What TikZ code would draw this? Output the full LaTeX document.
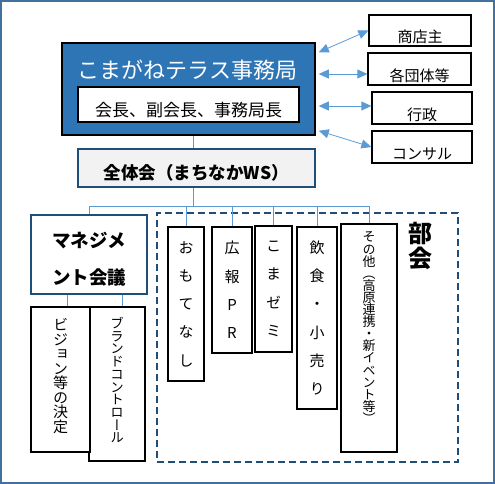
\documentclass[tikz,border=0pt]{standalone}
\usepackage{fontspec}
\setmainfont{Noto Sans CJK JP}
\newfontfamily\tatefont[RawFeature=+vert]{Noto Sans CJK JP}
\definecolor{kyokublue}{RGB}{46,117,182}
\definecolor{linkblue}{RGB}{91,155,213}
\definecolor{navyline}{RGB}{31,78,121}
\definecolor{frameblue}{RGB}{65,113,156}
\usetikzlibrary{arrows.meta, positioning, calc}

\begin{document}
\begin{tikzpicture}[x=1pt, y=-1pt,
  sidebox/.style={draw, line width=1.3pt, inner ysep=0pt, text height=24.5pt, text depth=0pt, font=\fontsize{15}{15}\selectfont},
  tatebox/.style={draw, line width=1.5pt, fill=white, inner sep=0pt, align=center, font=\tatefont\fontsize{15}{28.3}\selectfont},
  navybox/.style={draw=navyline, line width=2.5pt},
  link/.style={draw=linkblue, line width=0.8pt},
  both/.style={link, {Triangle[length=10pt,width=9pt]}-{Triangle[length=10pt,width=9pt]}}
]
  \useasboundingbox (0,0) rectangle (495,484);
  \draw[frameblue, line width=2pt] (1,1) rectangle (494,483);

  % jimukyoku
  \node[draw, line width=1.5pt, fill=kyokublue, minimum width=253, minimum height=92] (koma) at (188.5,89) {};
  \node[text=white, font=\fontsize{22}{22}\selectfont] (komatitle) at (187.5,70) {こまがねテラス事務局};
  \node[draw, line width=1.5pt, fill=white, minimum width=221, minimum height=35, inner ysep=0pt,
    text height=24pt, text depth=0pt, font=\fontsize{17}{17}\selectfont] (yakuin) at (188.5,104.5) {会長、副会長、事務局長};

  % partners
  \node[sidebox, minimum width=102, minimum height=31] (shoten) at (420,30.5) {商店主};
  \node[sidebox, minimum width=103, minimum height=32] (kakudantai) at (419.5,69) {各団体等};
  \node[sidebox, minimum width=100, minimum height=32] (gyosei) at (422,108) {行政};
  \node[sidebox, minimum width=100, minimum height=32] (konsaru) at (422,147) {コンサル};

  \coordinate (a1) at ([xshift=3pt,yshift=-10pt]koma.north east);
  \coordinate (a2) at ([xshift=3pt,yshift=15pt]koma.east);
  \coordinate (a3) at ([xshift=3pt,yshift=-17pt]koma.east);
  \coordinate (a4) at ([xshift=3pt,yshift=5pt]koma.south east);
  \draw[both] (a1) -- (shoten.west);
  \draw[both] (a2) -- (a2 -| kakudantai.west);
  \draw[both] (a3) -- (a3 -| gyosei.west);
  \draw[both] (a4) -- (konsaru.west);

  % zentaikai
  \node[navybox, fill=black!5, minimum width=237, minimum height=38, inner ysep=0pt,
    text height=23.3pt, text depth=0pt, font=\bfseries\fontsize{17.5}{17.5}\selectfont] (zentai) at (196.5,168) {全体会（まちなかWS）};

  % management
  \node[navybox, fill=white, minimum width=116, minimum height=79, align=center, text height=61pt,
    font=\bfseries\fontsize{18.5}{37}\selectfont] (mgmt) at (89,254.5) {マネジメ\\ント会議};
  \node[tatebox, minimum width=56, minimum height=154, text depth=8pt, font=\tatefont\fontsize{13.5}{12.7}\selectfont] (brand) at (117,384)
    {ブ\\ラ\\ン\\ド\\コ\\ン\\ト\\ロ\\ー\\ル};
  \node[tatebox, minimum width=59, minimum height=145, text depth=8pt, font=\tatefont\fontsize{15}{14.5}\selectfont] (vision) at (60.5,379.5)
    {ビ\\ジ\\ョ\\ン\\等\\の\\決\\定};

  % bukai
  \node[draw=navyline, line width=2.5pt, dash pattern=on 7pt off 4pt, minimum width=301, minimum height=249] (bukai) at (307.5,337.5) {};
  \node[font=\bfseries\fontsize{24}{25}\selectfont, align=center] (bukailabel) at (420,245.5) {部\\会};
  \node[tatebox, minimum width=36, minimum height=154] (omotenashi) at (186,304) {お\\も\\て\\な\\し};
  \node[tatebox, minimum width=40, minimum height=126] (koho) at (232,290) {広\\報\\P\\R};
  \node[tatebox, minimum width=37, minimum height=126] (komazemi) at (273.5,289) {こ\\ま\\ゼ\\ミ};
  \node[tatebox, minimum width=40, minimum height=182] (inshoku) at (317,318) {飲\\食\\・\\小\\売\\り};
  \node[tatebox, minimum width=56, minimum height=228, text depth=20.5pt, font=\tatefont\fontsize{13}{12.1}\selectfont] (sonota) at (369,338)
    {そ\\の\\他\\（\\高\\原\\連\\携\\・\\新\\イ\\ベ\\ン\\ト\\等\\）};

  % connectors
  \coordinate (hub) at (193,206);
  \draw[link] (koma.south -| hub) -- (zentai.north -| hub);
  \draw[link] (zentai.south -| hub) -- (hub);
  \draw[link] (mgmt.north) -- (mgmt.north |- hub) -- (sonota.north |- hub) -- (sonota.north);
  \foreach \b in {omotenashi, koho, komazemi, inshoku}
    \draw[link] (\b.north |- hub) -- (\b.north);
  \draw[link] ([xshift=7pt]vision.north) -- ([xshift=7pt]vision.north |- mgmt.south);
  \draw[link] ([xshift=5pt]brand.north) -- ([xshift=5pt]brand.north |- mgmt.south);
\end{tikzpicture}
\end{document}
